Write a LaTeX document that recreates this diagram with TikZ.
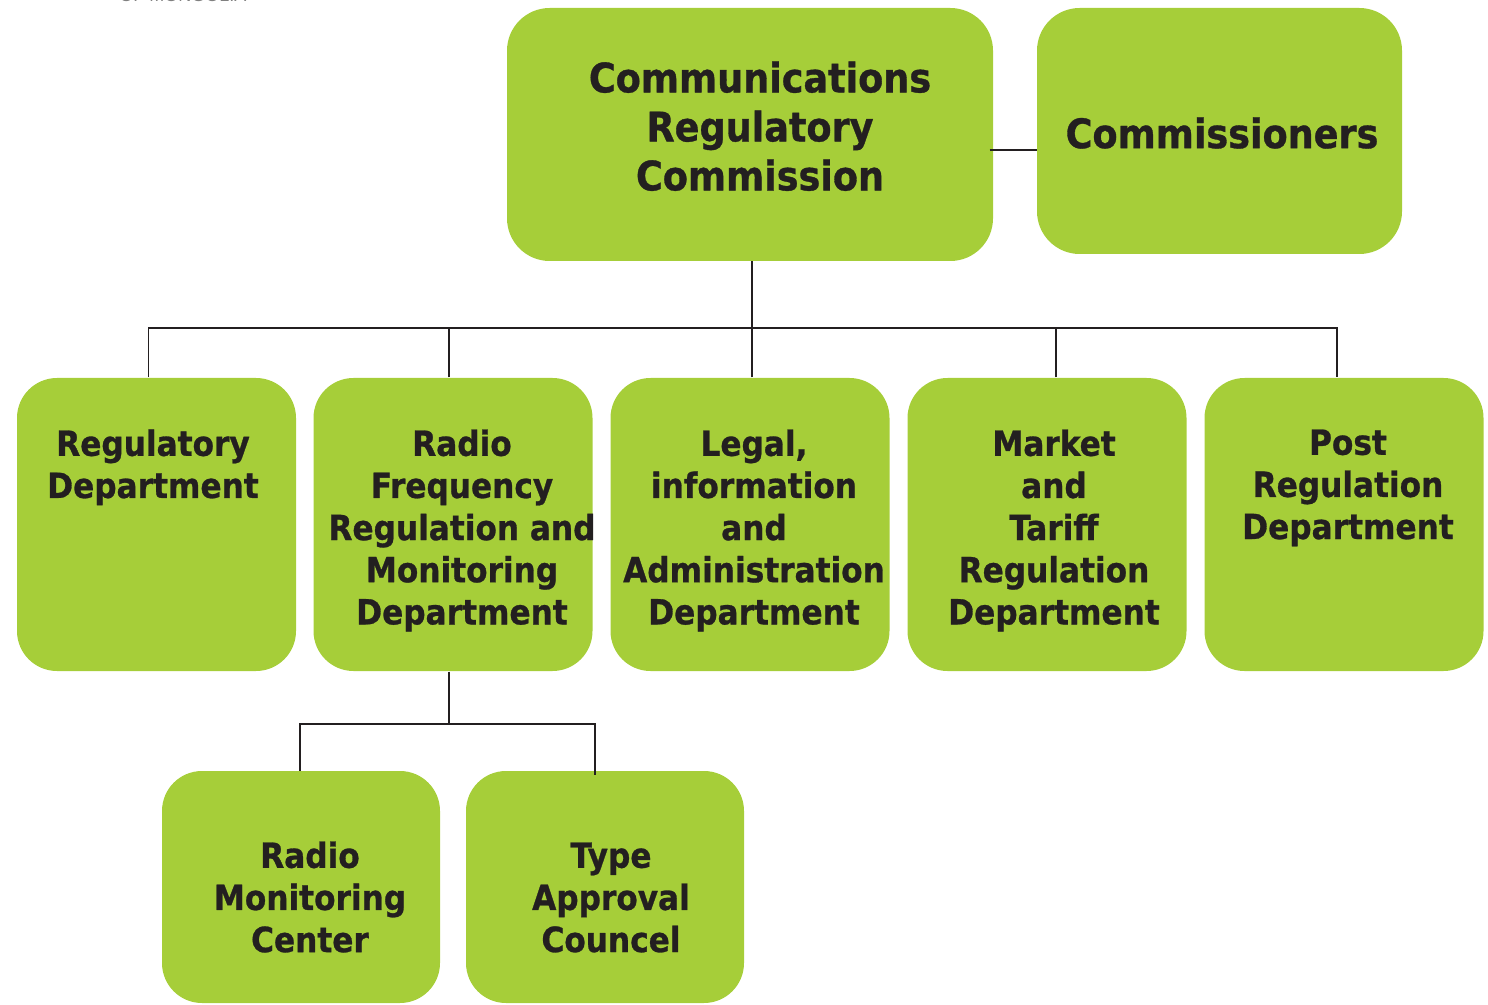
\documentclass[tikz,border=0pt]{standalone}
\usepackage{fontspec}
\setmainfont{DejaVu Sans Condensed}[BoldFeatures={FakeBold=0.8}]
\newfontfamily\hdrfont{Liberation Sans}

\definecolor{crcgreen}{RGB}{166,206,57}
\definecolor{crcink}{RGB}{35,31,32}

\tikzset{every picture/.style={line width=0.75pt}}
\tikzset{
  box/.style={fill=crcgreen, draw=none, rounded corners=30pt, inner sep=0pt},
  bigtxt/.style={text=crcink, inner sep=0pt, align=center, font=\fontsize{30.5}{36.75}\selectfont\bfseries},
  deptxt/.style={text=crcink, inner sep=0pt, align=center, anchor=north, font=\fontsize{26}{31.6}\selectfont\bfseries},
  wire/.style={draw=crcink, line width=1.3pt},
}

\begin{document}
\begin{tikzpicture}[x=0.75pt,y=0.75pt,yscale=-1,xscale=1]
\useasboundingbox (0,0) rectangle (1488,1005);

%Header (cut off)
\node [text=gray, font=\hdrfont\fontsize{13.5}{16}\selectfont] (hdr) at (183,-5) {OF MONGOLIA};

%Top row
\node [box, minimum width=364.5pt, minimum height=189.75pt, rounded corners=32pt] (crc) at (750,134.5) {};
\node [bigtxt, anchor=north] (crctxt) at (760,61) {Communications\\Regulatory\\Commission};
\node [box, minimum width=273.75pt, minimum height=184.5pt, rounded corners=32pt] (com) at (1219.5,131) {};
\node [bigtxt] (comtxt) at (1222,133) {Commissioners};

%Departments
\node [box, minimum width=209.25pt, minimum height=219.75pt] (reg) at (156.5,524.5) {};
\node [deptxt] (regtxt) at (153,429) {Regulatory\\Department};
\node [box, minimum width=209.25pt, minimum height=219.75pt] (rf) at (453,524.5) {};
\node [deptxt] (rftxt) at (462,429) {Radio\\Frequency\\Regulation and\\Monitoring\\Department};
\node [box, minimum width=209.25pt, minimum height=219.75pt] (legal) at (750,524.5) {};
\node [deptxt] (legaltxt) at (754,429) {Legal,\\information\\and\\Administration\\Department};
\node [box, minimum width=209.25pt, minimum height=219.75pt] (mkt) at (1047,524.5) {};
\node [deptxt] (mkttxt) at (1054,429) {Market\\and\\Tariff\\Regulation\\Department};
\node [box, minimum width=209.25pt, minimum height=219.75pt] (post) at (1344,524.5) {};
\node [deptxt] (posttxt) at (1348,429) {Post\\Regulation\\Department};

%Units under radio frequency
\node [box, minimum width=208.5pt, minimum height=174pt] (rmc) at (301,887) {};
\node [deptxt] (rmctxt) at (310,841) {Radio\\Monitoring\\Center};
\node [box, minimum width=208.5pt, minimum height=174pt] (tac) at (605,887) {};
\node [deptxt] (tactxt) at (611,842) {Type\\Approval\\Councel};

%Straight Lines
\coordinate (cl) at ([yshift=11.5pt]crc.east);
\draw [wire] ([xshift=-3pt]cl) -- (cl -| com.west);

\coordinate (bus) at (752,328);
\draw [wire] ([xshift=1.5pt]crc.south) -- (bus);
\draw [wire] ([xshift=-6pt]reg.north) |- (bus) -| ([xshift=-5.25pt]post.north);
\draw [wire] ([xshift=-3pt]rf.north) -- ([xshift=-3pt]rf.north |- bus);
\draw [wire] ([xshift=1.5pt]legal.north) -- ([xshift=1.5pt]legal.north |- bus);
\draw [wire] ([xshift=6.75pt]mkt.north) -- ([xshift=6.75pt]mkt.north |- bus);

\coordinate (sub) at (449,724);
\draw [wire] ([xshift=-3pt]rf.south) -- (sub);
\draw [wire] ([xshift=-0.75pt]rmc.north) |- (sub) -| ([xshift=-7.5pt,yshift=3pt]tac.north);

\end{tikzpicture}
\end{document}
